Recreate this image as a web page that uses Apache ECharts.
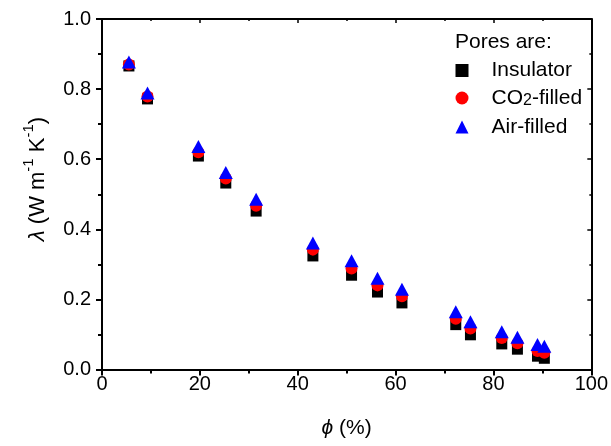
<!DOCTYPE html>
<html>
<head>
<meta charset="utf-8">
<script src="https://cdn.jsdelivr.net/npm/echarts@6/dist/echarts.min.js"></script>
<style>html,body{margin:0;padding:0;background:#fff}#c{width:611px;height:446px}</style>
</head>
<body>
<div id="c"></div>
<script>
const porosity = [5.5, 9.3, 19.7, 25.3, 31.5, 43.1, 51.0, 56.3, 61.3, 72.3, 75.3, 81.7, 84.9, 89.0, 90.4];
const insulator = [0.866, 0.772, 0.609, 0.532, 0.452, 0.324, 0.269, 0.221, 0.190, 0.128, 0.099, 0.073, 0.058, 0.038, 0.032];
const co2Filled = [0.870, 0.779, 0.620, 0.545, 0.467, 0.342, 0.288, 0.240, 0.209, 0.145, 0.117, 0.090, 0.075, 0.053, 0.048];
const airFilled = [0.877, 0.789, 0.636, 0.562, 0.486, 0.361, 0.310, 0.260, 0.229, 0.165, 0.136, 0.108, 0.092, 0.071, 0.066];
const seriesNames = ['Insulator', 'CO2-filled', 'Air-filled'];
const xTicks = [0, 20, 40, 60, 80, 100];
const yTicks = [0.0, 0.2, 0.4, 0.6, 0.8, 1.0];

const FONT = '"Liberation Sans", Arial, sans-serif';
const pairs = (xs, ys) => xs.map((x, i) => [x, ys[i]]);

const chart = echarts.init(document.getElementById('c'), null, {renderer: 'canvas'});
const axisLine = {show: true, onZero: false, lineStyle: {color: '#000', width: 2}};
chart.setOption({
  animation: false,
  backgroundColor: '#fff',
  title: {
    text: 'Pores are:', left: 455, top: 32, padding: 0,
    textStyle: {fontFamily: FONT, fontSize: 21, fontWeight: 'normal', color: '#000'}
  },
  legend: {
    orient: 'vertical', left: 455.5, top: 60, padding: 0,
    itemWidth: 13, itemHeight: 13, itemGap: 6.5,
    data: [
      {name: seriesNames[0], icon: 'rect'},
      {name: seriesNames[1], icon: 'circle'},
      {name: seriesNames[2], icon: 'triangle'}
    ],
    formatter: function (n) {
      if (n === 'CO2-filled') return '{a|CO}{s|2}{a|-filled}';
      return '{a|' + n + '}';
    },
    textStyle: {
      padding: [0, 0, 0, 18],
      rich: {
        a: {fontFamily: FONT, fontSize: 21, color: '#000', lineHeight: 24},
        s: {fontFamily: FONT, fontSize: 16, color: '#000', lineHeight: 24, verticalAlign: 'bottom', padding: [0, 0, 1, 0]}
      }
    }
  },
  grid: {left: 102, right: 18, top: 19, bottom: 76.5, containLabel: false},
  xAxis: [{
    type: 'value', min: 0, max: 100, interval: 20,
    name: '{i|ϕ}{n| (%)}', nameLocation: 'middle', nameGap: 48,
    nameTextStyle: {rich: {
      i: {fontFamily: FONT, fontSize: 21, fontStyle: 'italic', color: '#000'},
      n: {fontFamily: FONT, fontSize: 21, color: '#000'}
    }},
    axisLine: axisLine,
    axisTick: {show: true, inside: false, length: 6, lineStyle: {width: 2, color: '#000'}},
    minorTick: {show: true, splitNumber: 2, length: 4, lineStyle: {width: 2, color: '#000'}},
    splitLine: {show: false},
    axisLabel: {margin: 5, fontFamily: FONT, fontSize: 20, color: '#000',
      formatter: v => xTicks.includes(v) ? String(v) : ''}
  }, {
    type: 'value', position: 'top', min: 0, max: 100, interval: 20,
    axisLine: axisLine,
    axisTick: {show: true, inside: true, length: 4, lineStyle: {width: 1.5, color: '#000'}},
    minorTick: {show: true, splitNumber: 2, length: 2, lineStyle: {width: 1.5, color: '#000'}},
    splitLine: {show: false}, axisLabel: {show: false}
  }],
  yAxis: [{
    type: 'value', min: 0, max: 1, interval: 0.2,
    axisLine: axisLine,
    axisTick: {show: true, inside: false, length: 6, lineStyle: {width: 2, color: '#000'}},
    minorTick: {show: true, splitNumber: 2, length: 4, lineStyle: {width: 2, color: '#000'}},
    splitLine: {show: false},
    axisLabel: {margin: 11, fontFamily: FONT, fontSize: 20, color: '#000',
      formatter: v => yTicks.find(t => Math.abs(t - v) < 1e-9) !== undefined ? v.toFixed(1) : ''}
  }, {
    type: 'value', position: 'right', min: 0, max: 1, interval: 0.2,
    axisLine: axisLine,
    axisTick: {show: true, inside: true, length: 4, lineStyle: {width: 1.5, color: '#000'}},
    minorTick: {show: true, splitNumber: 2, length: 2, lineStyle: {width: 1.5, color: '#000'}},
    splitLine: {show: false}, axisLabel: {show: false}
  }],
  graphic: [{
    type: 'text', x: 35, y: 179, rotation: Math.PI / 2,
    style: {
      text: '{i|λ}{n| (W m}{s|-1}{n| K}{s|-1}{n|)}',
      align: 'center', verticalAlign: 'middle',
      rich: {
        i: {fontFamily: FONT, fontSize: 22, fontStyle: 'italic', fill: '#000', lineHeight: 27, verticalAlign: 'bottom'},
        n: {fontFamily: FONT, fontSize: 22, fill: '#000', lineHeight: 27, verticalAlign: 'bottom'},
        s: {fontFamily: FONT, fontSize: 15, fill: '#000', lineHeight: 27, verticalAlign: 'top'}
      }
    }
  }],
  series: [
    {name: seriesNames[0], type: 'scatter', data: pairs(porosity, insulator),
     symbol: 'rect', symbolSize: 11, itemStyle: {color: '#000', opacity: 1}},
    {name: seriesNames[1], type: 'scatter', data: pairs(porosity, co2Filled),
     symbol: 'circle', symbolSize: 12, itemStyle: {color: '#ff0000', opacity: 1}},
    {name: seriesNames[2], type: 'scatter', data: pairs(porosity, airFilled),
     symbol: 'triangle', symbolSize: [14, 13], itemStyle: {color: '#0000ff', opacity: 1}}
  ]
});
</script>
</body>
</html>
